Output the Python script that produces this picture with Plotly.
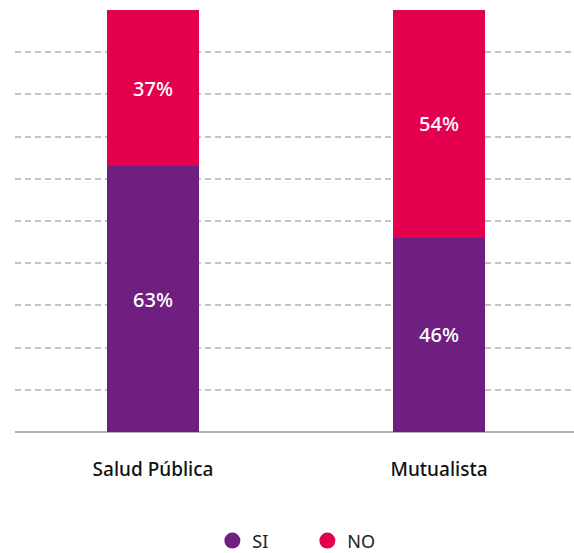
import plotly.graph_objects as go

categories = ["Salud Pública", "Mutualista"]
si_values = [63, 46]
no_values = [37, 54]
series_names = ["SI", "NO"]
colors = ["#6E1F80", "#E4004E"]

fig = go.Figure()
for name, vals, col in zip(series_names, [si_values, no_values], colors):
    fig.add_trace(go.Bar(
        x=categories, y=vals, name=name, marker=dict(color=col, line=dict(width=0)),
        text=[f"{v}%" for v in vals], textposition="inside", insidetextanchor="middle",
        textfont=dict(color="white", size=20, family="Noto Sans", weight=500),
        showlegend=False, hoverinfo="skip",
    ))
    fig.add_trace(go.Scatter(
        x=[None], y=[None], mode="markers", name=name,
        marker=dict(symbol="circle", size=21, color=col),
    ))

fig.update_layout(
    barmode="stack",
    bargap=0.678,
    width=574, height=553,
    margin=dict(l=15, r=0, t=10, b=121, autoexpand=False),
    plot_bgcolor="white", paper_bgcolor="white",
    font=dict(family="Noto Sans", color="#111111"),
    legend=dict(orientation="h", x=0.523, xanchor="center", y=-0.258, yanchor="middle",
                font=dict(size=18, color="#222222"), itemwidth=30, traceorder="normal",
                entrywidth=50, entrywidthmode="pixels"),
    xaxis=dict(range=[-0.4825, 1.472], showgrid=False, showline=False, ticks="",
               tickfont=dict(size=19, color="#111111", weight=500), ticklabelstandoff=24),
    yaxis=dict(range=[0, 100], dtick=10, showticklabels=False, showgrid=True,
               gridcolor="#c4c4c4", gridwidth=1.5, griddash="6px,4px",
               zeroline=True, zerolinecolor="#b3b3b3", zerolinewidth=2, showline=False),
)
fig.write_html("out.html")
